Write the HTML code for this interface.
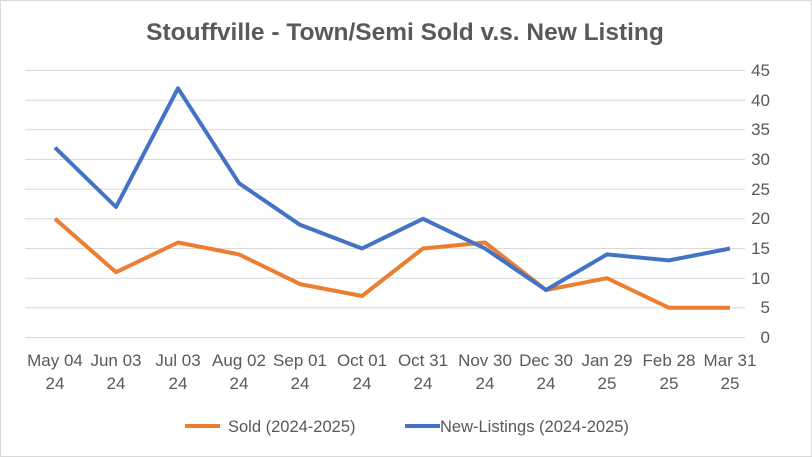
<!DOCTYPE html>
<html><head><meta charset="utf-8"><style>
body{margin:0;background:#fff}
svg{display:block;font-family:"Liberation Sans",sans-serif}
</style></head><body>
<svg width="812" height="457" viewBox="0 0 812 457">
<rect x="0.5" y="0.5" width="811" height="456" fill="#fff" stroke="#d9d9d9"/>
<text x="405" y="40" text-anchor="middle" font-size="24.5" font-weight="bold" fill="#595959">Stouffville - Town/Semi Sold v.s. New Listing</text>
<g stroke="#d9d9d9" stroke-width="1">
<line x1="25" x2="745" y1="337.5" y2="337.5"/>
<line x1="25" x2="745" y1="307.8" y2="307.8"/>
<line x1="25" x2="745" y1="278.2" y2="278.2"/>
<line x1="25" x2="745" y1="248.5" y2="248.5"/>
<line x1="25" x2="745" y1="218.8" y2="218.8"/>
<line x1="25" x2="745" y1="189.2" y2="189.2"/>
<line x1="25" x2="745" y1="159.5" y2="159.5"/>
<line x1="25" x2="745" y1="129.8" y2="129.8"/>
<line x1="25" x2="745" y1="100.2" y2="100.2"/>
<line x1="25" x2="745" y1="70.5" y2="70.5"/>
</g>
<g font-size="17" fill="#595959" text-anchor="end">
<text x="770" y="343">0</text><text x="770" y="313">5</text><text x="770" y="284">10</text>
<text x="770" y="254">15</text><text x="770" y="224">20</text><text x="770" y="195">25</text>
<text x="770" y="165">30</text><text x="770" y="135">35</text><text x="770" y="106">40</text>
<text x="770" y="76">45</text>
</g>
<g font-size="17" fill="#595959" text-anchor="middle">
<text x="55" y="366">May 04</text><text x="55" y="389">24</text>
<text x="116" y="366">Jun 03</text><text x="116" y="389">24</text>
<text x="178" y="366">Jul 03</text><text x="178" y="389">24</text>
<text x="239" y="366">Aug 02</text><text x="239" y="389">24</text>
<text x="300" y="366">Sep 01</text><text x="300" y="389">24</text>
<text x="362" y="366">Oct 01</text><text x="362" y="389">24</text>
<text x="423" y="366">Oct 31</text><text x="423" y="389">24</text>
<text x="485" y="366">Nov 30</text><text x="485" y="389">24</text>
<text x="546" y="366">Dec 30</text><text x="546" y="389">24</text>
<text x="607" y="366">Jan 29</text><text x="607" y="389">25</text>
<text x="669" y="366">Feb 28</text><text x="669" y="389">25</text>
<text x="730" y="366">Mar 31</text><text x="730" y="389">25</text>
</g>
<polyline fill="none" stroke="#ed7d31" stroke-width="4" stroke-linejoin="round" points="55,218.8 116,272.2 178,242.5 239,254.4 300,284.1 362,296 423,248.5 485,242.5 546,290 607,278.2 669,307.8 730,307.8"/>
<polyline fill="none" stroke="#4472c4" stroke-width="4" stroke-linejoin="round" points="55,147.6 116,207 178,88.3 239,183.2 300,224.8 362,248.5 423,218.8 485,248.5 546,290 607,254.4 669,260.4 730,248.5"/>
<line x1="185" x2="220" y1="426" y2="426" stroke="#ed7d31" stroke-width="4"/>
<text x="228" y="432" font-size="16.5" fill="#595959">Sold (2024-2025)</text>
<line x1="405" x2="440" y1="426" y2="426" stroke="#4472c4" stroke-width="4"/>
<text x="440" y="432" font-size="16.5" fill="#595959">New-Listings (2024-2025)</text>
</svg>
</body></html>
